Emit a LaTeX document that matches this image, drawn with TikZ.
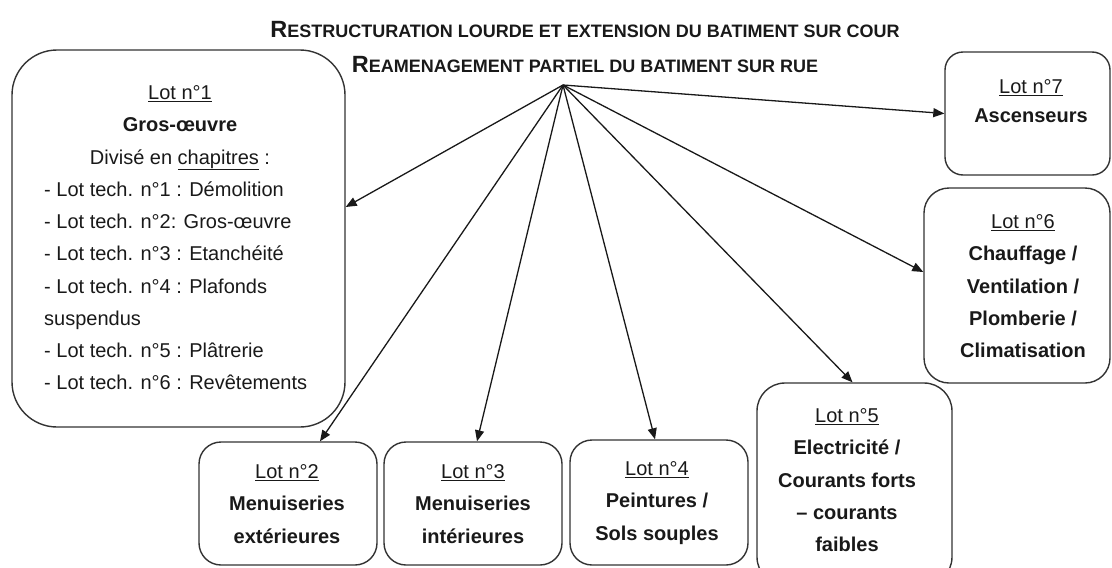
\documentclass[tikz,border=0pt]{standalone}
\usepackage{fontspec}
\setmainfont{Liberation Sans}
\usetikzlibrary{arrows.meta}
% small-caps imitation: a large initial followed by smaller capitals
\newcommand\initialcaps[2]{{\fontsize{23.5}{25}\selectfont #1}{\fontsize{18}{20}\selectfont #2}}
\begin{document}
\begin{tikzpicture}[x=1pt,y=-1pt,
  lotbox/.style={draw=black!80, line width=1.4pt, rounded corners=#1, inner sep=0pt},
  lotbox/.default=22pt,
  lottext/.style={align=center, inner sep=0pt, anchor=north, text=black!90,
    font=\fontsize{20}{32.2}\selectfont},
  titletext/.style={inner sep=0pt, anchor=base, text=black!90, font=\bfseries},
  link/.style={-{Triangle[length=11pt,width=9pt]}, line width=1.3pt, draw=black!90},
]
\useasboundingbox (0,0) rectangle (1112,568);

% title
\node[titletext] (title1) at (585,37)
  {\initialcaps{R}{ESTRUCTURATION LOURDE ET EXTENSION DU BATIMENT SUR COUR}};
\node[titletext] (title2) at (585,72)
  {\initialcaps{R}{EAMENAGEMENT PARTIEL DU BATIMENT SUR RUE}};

% frames of the lots
\node[lotbox=45pt, minimum width=333pt, minimum height=377pt] (lot1) at (178.5,238.5) {};
\node[lotbox, minimum width=178pt, minimum height=123pt] (lot2) at (288,503.5) {};
\node[lotbox, minimum width=178pt, minimum height=123pt] (lot3) at (473,503.5) {};
\node[lotbox, minimum width=178pt, minimum height=125pt] (lot4) at (659,502.5) {};
\node[lotbox=28pt, minimum width=195pt, minimum height=202pt] (lot5) at (854.5,484) {};
\node[lotbox=25pt, minimum width=186pt, minimum height=195pt] (lot6) at (1017,285.5) {};
\node[lotbox=18pt, minimum width=165pt, minimum height=123pt] (lot7) at (1027.5,113.5) {};

% contents of the lots
\node[lottext] (lot1head) at (180,85.5)
  {\underline{Lot n°1}\\ \textbf{Gros-œuvre}\\ Divisé en \underline{chapitres} :};
\node[lottext, align=left, anchor=north west] (lot1list) at (44,181.5)
  {- Lot tech. n°1 : Démolition\\
   - Lot tech. n°2: Gros-œuvre\\
   - Lot tech. n°3 : Etanchéité\\
   - Lot tech. n°4 : Plafonds\\
   suspendus\\
   - Lot tech. n°5 : Plâtrerie\\
   - Lot tech. n°6 : Revêtements};
\node[lottext] (lot2text) at (287,464.5)
  {\underline{Lot n°2}\\ \textbf{Menuiseries}\\ \textbf{extérieures}};
\node[lottext] (lot3text) at (473,464.5)
  {\underline{Lot n°3}\\ \textbf{Menuiseries}\\ \textbf{intérieures}};
\node[lottext] (lot4text) at (657,461.5)
  {\underline{Lot n°4}\\ \textbf{Peintures /}\\ \textbf{Sols souples}};
\node[lottext] (lot5text) at (847,408.5)
  {\underline{Lot n°5}\\ \textbf{Electricité /}\\ \textbf{Courants forts}\\
   \textbf{– courants}\\ \textbf{faibles}};
\node[lottext] (lot6text) at (1023,214.5)
  {\underline{Lot n°6}\\ \textbf{Chauffage /}\\ \textbf{Ventilation /}\\
   \textbf{Plomberie /}\\ \textbf{Climatisation}};
\node[lottext] (lot7text) at (1031,79.5)
  {\underline{Lot n°7}\\[-3pt] \textbf{Ascenseurs}};

% arrows spreading from a common point under the title
\coordinate (hub) at (563,85);
\draw[link] (hub) -- ([yshift=31.5pt]lot1.east);
\draw[link] (hub) -- ([xshift=32pt]lot2.north);
\draw[link] (hub) -- ([xshift=4pt]lot3.north);
\draw[link] (hub) -- ([xshift=-4pt]lot4.north);
\draw[link] (hub) -- ([xshift=-2pt]lot5.north);
\draw[link] (hub) -- ([yshift=13.5pt]lot6.west);
\draw[link] (hub) -- (lot7.west);
\end{tikzpicture}
\end{document}
